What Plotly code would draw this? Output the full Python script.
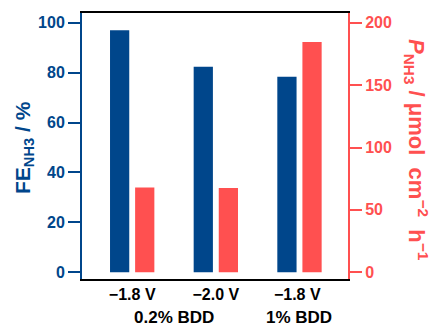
import plotly.graph_objects as go

categories = ["−1.8 V", "−2.0 V", "−1.8 V "]
fe_nh3 = [97.0, 82.4, 78.4]
p_nh3 = [68.0, 67.5, 184.5]
group_labels = ["0.2% BDD", "1% BDD"]
group_pos = [0.5, 2.0]

BLUE = "#00468b"
RED = "#ff5050"
FONT = "Liberation Sans, Arial, sans-serif"

x_idx = list(range(len(categories)))

fig = go.Figure()
fig.add_trace(go.Bar(x=x_idx, y=fe_nh3, marker=dict(color=BLUE, line=dict(width=0)),
                     width=0.23, offset=-0.265, yaxis="y", showlegend=False))
fig.add_trace(go.Bar(x=x_idx, y=p_nh3, marker=dict(color=RED, line=dict(width=0)),
                     width=0.23, offset=0.035, yaxis="y2", showlegend=False))

fig.update_layout(
    width=433, height=327,
    margin=dict(l=82, r=85, t=13, b=48),
    plot_bgcolor="white", paper_bgcolor="white",
    font=dict(family=FONT, size=16),
    xaxis=dict(
        range=[-0.6, 2.58],
        tickmode="array", tickvals=x_idx, ticktext=categories,
        showline=True, linecolor="black", linewidth=2, mirror=True,
        ticks="", showgrid=False, zeroline=False,
        tickfont=dict(family=FONT, size=16, color="black", weight="bold"),
    ),
    yaxis=dict(
        range=[-2.7, 103.9],
        tickvals=[0, 20, 40, 60, 80, 100],
        showline=True, linecolor=BLUE, linewidth=2,
        ticks="outside", ticklen=12, tickwidth=2, tickcolor=BLUE,
        showgrid=False, zeroline=False,
        tickfont=dict(family=FONT, size=16, color=BLUE, weight="bold"),
    ),
    yaxis2=dict(
        range=[-5.4, 207.8],
        tickvals=[0, 50, 100, 150, 200],
        overlaying="y", side="right",
        showline=True, linecolor=RED, linewidth=2,
        ticks="outside", ticklen=12, tickwidth=2, tickcolor=RED,
        showgrid=False, zeroline=False,
        tickfont=dict(family=FONT, size=16, color=RED, weight="bold"),
    ),
)

annotations = [
    dict(x=24, y=148, text="FE<sub>NH3</sub> / %",
         textangle=-90, showarrow=False, xanchor="center", yanchor="middle",
         font=dict(family=FONT, size=21, color=BLUE, weight="bold")),
    dict(x=417, y=150, text="<i>P</i><sub>NH3</sub> / μmol  cm<sup>−2</sup>  h<sup>−1</sup>",
         textangle=90, showarrow=False, xanchor="center", yanchor="middle",
         font=dict(family=FONT, size=22, color=RED, weight="bold")),
]
for a in annotations:
    a["xref"] = "paper"; a["yref"] = "paper"
    a["x"] = (a["x"] - 82) / (433 - 82 - 85)
    a["y"] = (279 - a["y"]) / (327 - 13 - 48)
for lbl, gx in zip(group_labels, group_pos):
    annotations.append(dict(x=gx, y=(279 - 317) / 266, xref="x", yref="paper",
                            text=lbl, showarrow=False, yanchor="middle",
                            font=dict(family=FONT, size=17, color="black", weight="bold")))
fig.update_layout(annotations=annotations)

fig.write_html("out.html")
